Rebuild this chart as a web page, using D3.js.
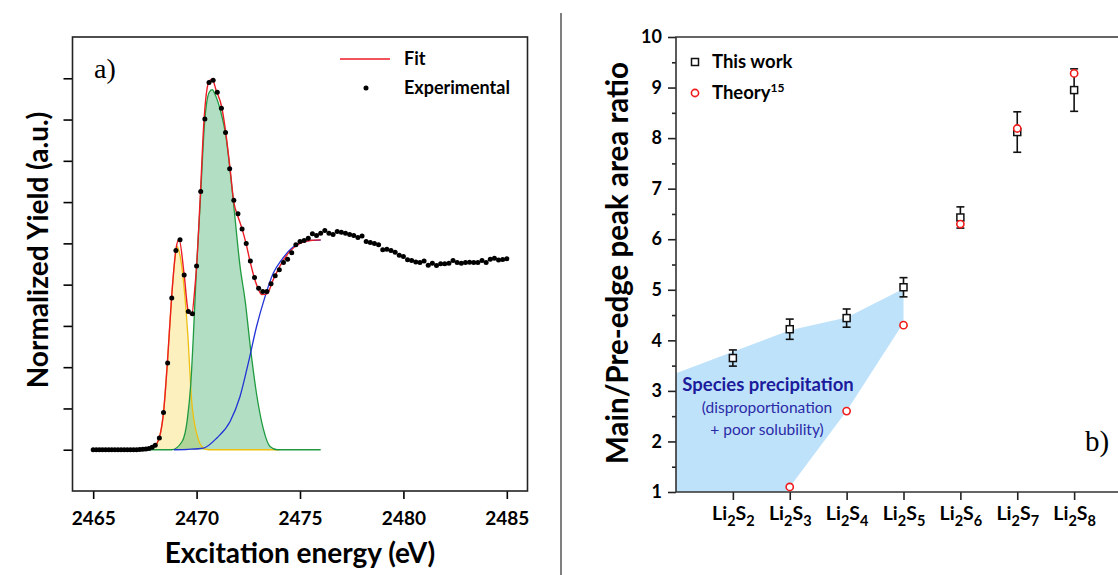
<!DOCTYPE html>
<html lang="en">
<head>
<meta charset="UTF-8">
<title>S K-edge XANES and peak ratios</title>
<style>
  body { margin: 0; background: #fff; }
  svg { display: block; }
  .sans { font-family: Lato, "Open Sans", sans-serif; }
  .serif { font-family: "Liberation Serif", "DejaVu Serif", serif; }
</style>
<script src="https://d3js.org/d3.v7.min.js"></script>
</head>
<body>
<div id="chart"></div>
<script>
// ---- panel a) data ----
const expEnergy = [2465.00,2465.15,2465.30,2465.45,2465.60,2465.75,2465.90,2466.05,2466.20,2466.35,
  2466.50,2466.65,2466.80,2466.95,2467.10,2467.25,2467.40,2467.55,2467.70,2467.85,
  2468.0,2468.2,2468.4,2468.6,2468.8,2469.0,2469.2,2469.4,2469.6,2469.8,
  2470.0,2470.2,2470.4,2470.6,2470.8,2471.0,2471.2,2471.4,2471.6,2471.8,
  2472.0,2472.2,2472.4,2472.6,2472.8,2473.0,2473.2,2473.4,2473.6,2473.8,
  2474.0,2474.2,2474.4,2474.6,2474.8,2475.0,2475.2,2475.4,2475.6,2475.8,
  2476.0,2476.2,2476.4,2476.6,2476.8,2477.0,2477.2,2477.4,2477.6,2477.8,
  2478.0,2478.2,2478.4,2478.6,2478.8,2479.0,2479.2,2479.4,2479.6,2479.8,
  2480.0,2480.2,2480.4,2480.6,2480.8,2481.0,2481.2,2481.4,2481.6,2481.8,
  2482.0,2482.2,2482.4,2482.6,2482.8,2483.0,2483.2,2483.4,2483.6,2483.8,
  2484.0,2484.2,2484.4,2484.6,2484.8,2485.0];
const expYield = [0,0,0,0,0,0,0,0,0,0,
  0,0,0,0,0,0.001,0.002,0.003,0.006,0.012,
  0.022,0.057,0.18,0.42,0.735,0.965,1.017,0.847,0.67,0.659,
  0.89,1.251,1.603,1.779,1.79,1.732,1.655,1.537,1.361,1.209,
  1.144,1.07,0.999,0.915,0.834,0.783,0.767,0.767,0.804,0.843,
  0.872,0.907,0.923,0.955,0.993,1.009,1.014,1.025,1.046,1.038,
  1.049,1.062,1.049,1.043,1.057,1.054,1.049,1.043,1.038,1.028,
  1.036,1.009,1.004,0.999,0.993,0.969,0.972,0.965,0.957,0.943,
  0.936,0.92,0.917,0.91,0.907,0.915,0.894,0.904,0.893,0.901,
  0.901,0.904,0.917,0.907,0.904,0.907,0.909,0.907,0.907,0.917,
  0.907,0.923,0.928,0.919,0.922,0.926];

const fitEnergy = [2467.0,2467.6,2467.9,2468.2,2468.4,2468.6,2468.8,2469.0,2469.15,2469.4,2469.6,2469.76,2469.93,2470.0,
  2470.17,2470.36,2470.57,2470.75,2470.95,2471.21,2471.42,2471.62,2471.8,2472.0,2472.2,2472.4,2472.58,2472.8,
  2473.0,2473.15,2473.4,2473.7,2474.11,2474.5,2475.0,2475.5,2476.0];
const fitYield = [0,0.002,0.01,0.06,0.18,0.44,0.75,0.97,1.02,0.847,0.67,0.654,0.8,0.888,
  1.21,1.598,1.776,1.795,1.74,1.662,1.53,1.361,1.2,1.13,1.07,0.995,0.915,0.83,
  0.775,0.752,0.755,0.823,0.904,0.96,1.0,1.014,1.017];

const preEnergy = [2467.0,2467.6,2467.9,2468.2,2468.4,2468.6,2468.8,2469.0,2469.05,2469.2,2469.4,2469.57,2469.76,2470.0,2470.33,2470.6,2474.0];
const preYield  = [0,0.002,0.008,0.06,0.18,0.44,0.75,0.96,0.985,0.94,0.78,0.565,0.24,0.08,0.008,0,0];

const mainEnergy = [2467.0,2468.8,2469.3,2469.55,2469.72,2469.85,2470.0,2470.15,2470.4,2470.6,2470.75,2470.9,2471.15,2471.4,
  2471.6,2471.8,2472.1,2472.35,2472.62,2472.9,2473.23,2473.55,2473.9,2476.0];
const mainYield  = [0,0,0.04,0.145,0.32,0.565,0.89,1.15,1.6,1.73,1.745,1.72,1.645,1.53,
  1.37,1.18,0.89,0.72,0.48,0.27,0.1,0.016,0,0];

const edgeEnergy = [2468.9,2469.6,2470.33,2470.98,2471.62,2472.1,2472.5,2472.9,2473.31,2473.71,2474.11,2474.52,2475.0,2475.48,2476.0];
const edgeYield  = [0,0.002,0.008,0.057,0.137,0.258,0.42,0.597,0.742,0.856,0.92,0.969,1.004,1.014,1.016];

const energyTicks = [2465, 2470, 2475, 2480, 2485];
const yieldTicks = [0, 0.2, 0.4, 0.6, 0.8, 1.0, 1.2, 1.4, 1.6, 1.8];

// ---- panel b) data ----
const sulfurN = [2, 3, 4, 5, 6, 7, 8];
const thisWork = [3.65, 4.22, 4.44, 5.05, 6.43, 8.12, 8.95];
const thisWorkErr = [0.16, 0.2, 0.18, 0.19, 0.21, 0.4, 0.42];
const theoryN = [3, 4, 5, 6, 7, 8];
const theory = [1.1, 2.6, 4.3, 6.3, 8.19, 9.28];
const shadeN = [1, 1, 3, 4, 5, 5, 4, 3, 2.93, 2.93];
const shadeV = [1, 3.35, 4.2, 4.45, 5.02, 4.35, 2.6, 1.1, 1.0, 1];
const ratioTicks = [1, 2, 3, 4, 5, 6, 7, 8, 9, 10];
const ratioMinor = [1.5, 2.5, 3.5, 4.5, 5.5, 6.5, 7.5, 8.5, 9.5];

const svg = d3.select("#chart").append("svg")
    .attr("width", 1118)
    .attr("height", 575);

const zip = (xs, ys) => xs.map((x, i) => [x, ys[i]]);

// ================= panel a =================
const A = {left: 72.5, right: 527.5, top: 37, bottom: 491};
const xA = d3.scaleLinear().domain([2464, 2486]).range([A.left, A.right]);
const yA = d3.scaleLinear().domain([-0.2, 2.0]).range([A.bottom, A.top]);

const gA = svg.append("g");

const areaA = d3.area().x(d => xA(d[0])).y0(yA(0)).y1(d => yA(d[1])).curve(d3.curveMonotoneX);
const lineA = d3.line().x(d => xA(d[0])).y(d => yA(d[1])).curve(d3.curveMonotoneX);

gA.append("path").datum(zip(preEnergy, preYield))
    .attr("d", areaA).attr("fill", "rgb(248,214,74)").attr("fill-opacity", 0.36);
gA.append("path").datum(zip(mainEnergy, mainYield))
    .attr("d", areaA).attr("fill", "rgb(30,160,80)").attr("fill-opacity", 0.34);
gA.append("path").datum(zip(preEnergy, preYield))
    .attr("d", lineA).attr("fill", "none").attr("stroke", "#efbf10").attr("stroke-width", 1.3);
gA.append("path").datum(zip(mainEnergy, mainYield))
    .attr("d", lineA).attr("fill", "none").attr("stroke", "#1f9a40").attr("stroke-width", 1.3);
gA.append("path").datum(zip(edgeEnergy, edgeYield))
    .attr("d", lineA).attr("fill", "none").attr("stroke", "#2233d6").attr("stroke-width", 1.3);
gA.append("path").datum(zip(fitEnergy, fitYield))
    .attr("d", lineA).attr("fill", "none").attr("stroke", "#ec1c24").attr("stroke-width", 1.4);

gA.selectAll(".dot").data(zip(expEnergy, expYield)).enter().append("circle")
    .attr("class", "dot")
    .attr("cx", d => xA(d[0]))
    .attr("cy", d => yA(d[1]))
    .attr("r", 2.5)
    .attr("fill", "#000");

// axes
const axA_x = gA.append("g")
    .attr("transform", `translate(0,${A.bottom})`)
    .call(d3.axisBottom(xA).tickValues(energyTicks).tickFormat(d3.format("d")).tickSize(8).tickSizeOuter(0).tickPadding(13));
const axA_y = gA.append("g")
    .attr("transform", `translate(${A.left},0)`)
    .call(d3.axisLeft(yA).tickValues(yieldTicks).tickFormat("").tickSize(9).tickSizeOuter(0));
[axA_x, axA_y].forEach(ax => {
    ax.select(".domain").remove();
    ax.selectAll("line").attr("stroke", "#000").attr("stroke-width", 1.6);
});
axA_x.selectAll("text")
    .attr("class", "sans").attr("font-size", 19).attr("font-weight", 700).attr("fill", "#000");

gA.append("rect")
    .attr("x", A.left).attr("y", A.top)
    .attr("width", A.right - A.left).attr("height", A.bottom - A.top)
    .attr("fill", "none").attr("stroke", "#222").attr("stroke-width", 1.6);

gA.append("text").attr("class", "sans")
    .attr("x", 300).attr("y", 563)
    .attr("text-anchor", "middle").attr("font-size", 28).attr("font-weight", 700)
    .text("Excitation energy (eV)");
gA.append("text").attr("class", "sans")
    .attr("transform", `translate(48,${250}) rotate(-90)`)
    .attr("text-anchor", "middle").attr("font-size", 28).attr("font-weight", 700)
    .text("Normalized Yield (a.u.)");
gA.append("text").attr("class", "serif")
    .attr("x", 94).attr("y", 78).attr("font-size", 28).text("a)");

// legend a
gA.append("line").attr("x1", 340).attr("x2", 390).attr("y1", 59).attr("y2", 59)
    .attr("stroke", "#ec1c24").attr("stroke-width", 1.4);
gA.append("circle").attr("cx", 366).attr("cy", 88).attr("r", 2.5).attr("fill", "#000");
gA.append("text").attr("class", "sans").attr("x", 404).attr("y", 65)
    .attr("font-size", 18).attr("font-weight", 700).text("Fit");
gA.append("text").attr("class", "sans").attr("x", 404).attr("y", 94)
    .attr("font-size", 18).attr("font-weight", 700).text("Experimental");

// divider
svg.append("line").attr("x1", 561).attr("x2", 561).attr("y1", 13).attr("y2", 575)
    .attr("stroke", "#000").attr("stroke-width", 1);

// ================= panel b =================
const B = {left: 676, right: 1131, top: 37, bottom: 492};
const xB = d3.scaleLinear().domain([1, 9]).range([B.left, B.right]);
const yB = d3.scaleLinear().domain([1, 10]).range([B.bottom, B.top]);
const gB = svg.append("g");

gB.append("path").datum(zip(shadeN, shadeV))
    .attr("d", d3.line().x(d => xB(d[0])).y(d => yB(d[1])))
    .attr("fill", "#bfe2fb").attr("stroke", "none");

gB.append("text").attr("class", "sans")
    .attr("x", 768).attr("y", 391).attr("text-anchor", "middle")
    .attr("font-size", 18.5).attr("font-weight", 700).attr("fill", "#1b1b9c")
    .text("Species precipitation");
gB.append("text").attr("class", "sans")
    .attr("x", 767).attr("y", 413).attr("text-anchor", "middle")
    .attr("font-size", 15.5).attr("fill", "#2a2aa6")
    .text("(disproportionation");
gB.append("text").attr("class", "sans")
    .attr("x", 767).attr("y", 435).attr("text-anchor", "middle")
    .attr("font-size", 15.5).attr("fill", "#2a2aa6")
    .text("+ poor solubility)");

// axes b
const axB_y = gB.append("g").attr("transform", `translate(${B.left},0)`)
    .call(d3.axisLeft(yB).tickValues(ratioTicks).tickFormat(d3.format("d")).tickSize(8).tickSizeOuter(0).tickPadding(6));
const axB_ym = gB.append("g").attr("transform", `translate(${B.left},0)`)
    .call(d3.axisLeft(yB).tickValues(ratioMinor).tickFormat("").tickSize(4).tickSizeOuter(0));
const axB_x = gB.append("g").attr("transform", `translate(0,${B.bottom})`)
    .call(d3.axisBottom(xB).tickValues(sulfurN).tickFormat("").tickSize(8).tickSizeOuter(0));
[axB_y, axB_ym, axB_x].forEach(ax => {
    ax.select(".domain").remove();
    ax.selectAll("line").attr("stroke", "#222").attr("stroke-width", 1.6);
});
axB_y.selectAll("text").attr("class", "sans").attr("font-size", 18).attr("font-weight", 700).attr("fill", "#000");

// category labels Li2Sn
const catLab = axB_x.selectAll(".tick").append("text")
    .attr("class", "sans").attr("y", 28).attr("text-anchor", "middle")
    .attr("font-size", 19.5).attr("font-weight", 700).attr("fill", "#000");
catLab.append("tspan").text("Li");
catLab.append("tspan").attr("font-size", 14.5).attr("dy", 6).text("2");
catLab.append("tspan").attr("dy", -6).text("S");
catLab.append("tspan").attr("font-size", 14.5).attr("dy", 6).text(d => d);

// frame lines
gB.append("path")
    .attr("d", d3.line()([[B.right, B.top], [B.left, B.top], [B.left, B.bottom], [B.right, B.bottom]]))
    .attr("fill", "none").attr("stroke", "#333").attr("stroke-width", 1.6);

// error bars + squares
const pts = sulfurN.map((n, i) => ({n: n, v: thisWork[i], e: thisWorkErr[i]}));
const eb = gB.selectAll(".eb").data(pts).enter().append("g").attr("class", "eb");
eb.append("line")
    .attr("x1", d => xB(d.n)).attr("x2", d => xB(d.n))
    .attr("y1", d => yB(d.v - d.e)).attr("y2", d => yB(d.v + d.e))
    .attr("stroke", "#111").attr("stroke-width", 1.6);
["lo", "hi"].forEach(k => {
    eb.append("line")
        .attr("x1", d => xB(d.n) - 4).attr("x2", d => xB(d.n) + 4)
        .attr("y1", d => yB(k === "lo" ? d.v - d.e : d.v + d.e))
        .attr("y2", d => yB(k === "lo" ? d.v - d.e : d.v + d.e))
        .attr("stroke", "#111").attr("stroke-width", 1.6);
});
eb.append("rect")
    .attr("x", d => xB(d.n) - 3.5).attr("y", d => yB(d.v) - 3.5)
    .attr("width", 7).attr("height", 7)
    .attr("fill", "#fff").attr("stroke", "#111").attr("stroke-width", 1.5);

gB.selectAll(".th").data(zip(theoryN, theory)).enter().append("circle")
    .attr("class", "th")
    .attr("cx", d => xB(d[0])).attr("cy", d => yB(d[1])).attr("r", 3.6)
    .attr("fill", "#fff").attr("stroke", "#f01c1c").attr("stroke-width", 1.6);

// legend b
gB.append("rect").attr("x", 691.5).attr("y", 58.5).attr("width", 7).attr("height", 7)
    .attr("fill", "#fff").attr("stroke", "#111").attr("stroke-width", 1.5);
gB.append("circle").attr("cx", 695).attr("cy", 93).attr("r", 3.6)
    .attr("fill", "#fff").attr("stroke", "#f01c1c").attr("stroke-width", 1.6);
gB.append("text").attr("class", "sans").attr("x", 712).attr("y", 68)
    .attr("font-size", 18.5).attr("font-weight", 700).text("This work");
const thLab = gB.append("text").attr("class", "sans").attr("x", 712).attr("y", 99)
    .attr("font-size", 18.5).attr("font-weight", 700);
thLab.append("tspan").text("Theory");
thLab.append("tspan").attr("font-size", 12).attr("dy", -7).text("15");

gB.append("text").attr("class", "sans")
    .attr("transform", `translate(628,263) rotate(-90)`)
    .attr("text-anchor", "middle").attr("font-size", 29.5).attr("font-weight", 700)
    .text("Main/Pre-edge peak area ratio");
gB.append("text").attr("class", "serif")
    .attr("x", 1085).attr("y", 451).attr("font-size", 29).text("b)");
</script>
</body>
</html>
